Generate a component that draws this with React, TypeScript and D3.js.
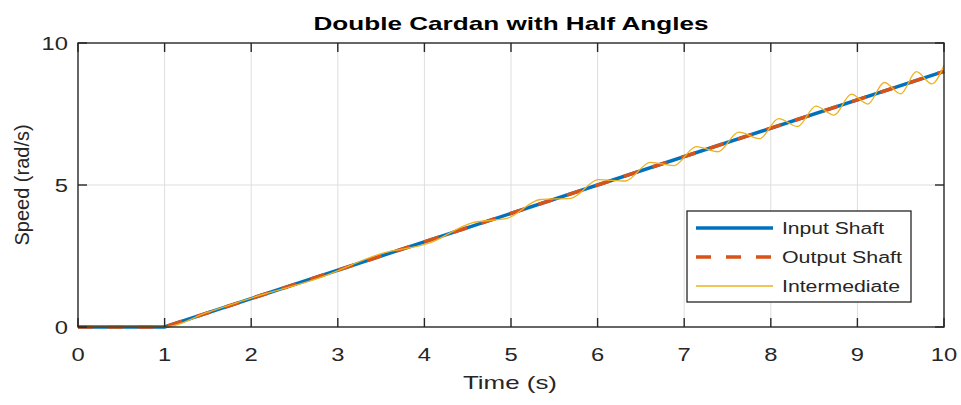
import React from "react";
import * as d3 from "d3";

const TITLE = "Double Cardan with Half Angles";
const X_LABEL = "Time (s)";
const Y_LABEL = "Speed (rad/s)";
const X_TICKS = [0, 1, 2, 3, 4, 5, 6, 7, 8, 9, 10];
const Y_TICKS = [0, 5, 10];

// Input / output shaft speeds (ramp starting at t = 1 s)
const shaftTime = [0, 1, 10];
const inputSpeed = [0, 0, 9];
const outputSpeed = [0, 0, 9];

// Intermediate shaft speed: oscillating around the ramp (read at its peaks and troughs)
const interTime = [0, 1, 1.5, 2, 2.77, 3.51, 4.07, 4.55, 4.96, 5.34, 5.69, 6.01, 6.32, 6.61, 6.88, 7.14, 7.39, 7.63, 7.87, 8.09, 8.31, 8.52, 8.73, 8.93, 9.12, 9.31, 9.5, 9.68, 9.86, 10];
const interSpeed = [0, 0, 0.52, 1.02, 1.71, 2.59, 2.97, 3.67, 3.83, 4.49, 4.53, 5.19, 5.14, 5.8, 5.68, 6.35, 6.17, 6.86, 6.63, 7.34, 7.06, 7.78, 7.46, 8.2, 7.85, 8.61, 8.21, 8.99, 8.56, 9.22];

const LEGEND = ["Input Shaft", "Output Shaft", "Intermediate"];

const W = 961, H = 405;
const L = 78, R = 944, T = 43, B = 327;
const FONT = "'Liberation Sans', Arial, Helvetica, sans-serif";
const TXT = "#262626";

export default function App() {
  const x = d3.scaleLinear().domain([0, 10]).range([L, R]);
  const y = d3.scaleLinear().domain([0, 10]).range([B, T]);

  const straight = d3.line<[number, number]>().x(d => x(d[0])).y(d => y(d[1]));
  const smooth = d3.line<[number, number]>().x(d => x(d[0])).y(d => y(d[1])).curve(d3.curveMonotoneX);

  const inPts = shaftTime.map((t, i) => [t, inputSpeed[i]] as [number, number]);
  const outPts = shaftTime.map((t, i) => [t, outputSpeed[i]] as [number, number]);
  const midPts = interTime.map((t, i) => [t, interSpeed[i]] as [number, number]);

  const colors = ["#0072BD", "#D95319", "#EDB120"];
  const legX = 687, legY = 211, legW = 224, legH = 91;
  const rowY = [228, 257, 286];
  const legWidths = [102, 120, 118];

  return (
    <svg width={W} height={H} style={{ position: "absolute", left: 0, top: 0, background: "#fff" }} fontFamily={FONT}>
      <rect x={0} y={0} width={W} height={H} fill="#fff" />
      <rect x={L} y={T} width={R - L} height={B - T} fill="#fff" />
      {/* grid */}
      {X_TICKS.filter(t => t > 0 && t < 10).map(t => (
        <line key={"gx" + t} x1={x(t)} x2={x(t)} y1={T} y2={B} stroke="#dedede" strokeWidth={1} />
      ))}
      {Y_TICKS.filter(t => t > 0 && t < 10).map(t => (
        <line key={"gy" + t} x1={L} x2={R} y1={y(t)} y2={y(t)} stroke="#dedede" strokeWidth={1} />
      ))}
      {/* data */}
      <path d={straight(inPts) || ""} fill="none" stroke={colors[0]} strokeWidth={3.5} />
      <path d={straight(outPts) || ""} fill="none" stroke={colors[1]} strokeWidth={3.5} strokeDasharray="15 15" />
      <path d={smooth(midPts) || ""} fill="none" stroke={colors[2]} strokeWidth={1.3} />
      {/* axes box */}
      <rect x={L} y={T} width={R - L} height={B - T} fill="none" stroke="#262626" strokeWidth={1.4} />
      {X_TICKS.map(t => (
        <g key={"tx" + t}>
          <line x1={x(t)} x2={x(t)} y1={B} y2={B - 9} stroke="#262626" strokeWidth={1.4} />
          <line x1={x(t)} x2={x(t)} y1={T} y2={T + 9} stroke="#262626" strokeWidth={1.4} />
          <text transform={`translate(${x(t)},361) scale(1.25,1)`} textAnchor="middle" fontSize={19} fill={TXT}>{t}</text>
        </g>
      ))}
      {Y_TICKS.map(t => (
        <g key={"ty" + t}>
          <line x1={L} x2={L + 9} y1={y(t)} y2={y(t)} stroke="#262626" strokeWidth={1.4} />
          <line x1={R} x2={R - 9} y1={y(t)} y2={y(t)} stroke="#262626" strokeWidth={1.4} />
          <text transform={`translate(68,${y(t) + 6.8}) scale(1.25,1)`} textAnchor="end" fontSize={19} fill={TXT}>{t}</text>
        </g>
      ))}
      {/* labels */}
      <text x={511} y={30} textAnchor="middle" fontSize={19} fontWeight="bold" fill="#000" textLength={395} lengthAdjust="spacingAndGlyphs">{TITLE}</text>
      <text x={510} y={389} textAnchor="middle" fontSize={19} fill={TXT} textLength={94} lengthAdjust="spacingAndGlyphs">{X_LABEL}</text>
      <text transform={`translate(29,185) rotate(-90)`} textAnchor="middle" fontSize={20} fill={TXT}>{Y_LABEL}</text>
      {/* legend */}
      <rect x={legX} y={legY} width={legW} height={legH} fill="#fff" stroke="#262626" strokeWidth={1.3} />
      {LEGEND.map((name, i) => (
        <g key={name}>
          <line x1={696} x2={773} y1={rowY[i]} y2={rowY[i]} stroke={colors[i]}
            strokeWidth={i === 2 ? 1.3 : 3.5} strokeDasharray={i === 1 ? "15 15" : undefined} />
          <text x={782} y={rowY[i] + 6} fontSize={16} fill={TXT} textLength={legWidths[i]} lengthAdjust="spacingAndGlyphs">{name}</text>
        </g>
      ))}
    </svg>
  );
}
